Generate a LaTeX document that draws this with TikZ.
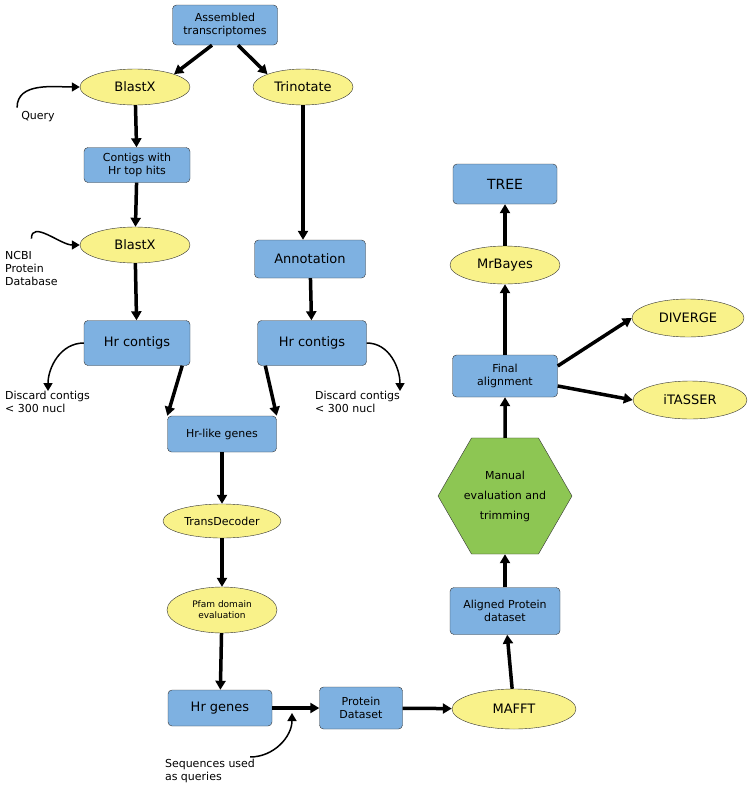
\documentclass[tikz,border=0pt]{standalone}
\usepackage{fontspec}
\setmainfont{DejaVu Sans}
\usetikzlibrary{shapes.geometric,arrows.meta}
\definecolor{boxblue}{HTML}{7EB1E1}
\definecolor{ellyellow}{HTML}{F9F28A}
\definecolor{hexgreen}{HTML}{8DC653}
\tikzset{
  box/.style={draw=black!80, fill=boxblue, rounded corners=4pt, align=center, inner sep=2pt},
  ell/.style={draw=black!80, fill=ellyellow, ellipse, align=center, inner sep=1pt},
  lbl/.style={align=left, inner sep=0pt, font=\fontsize{11}{13}\selectfont},
  arr/.style={-{Triangle[length=9pt,width=10pt]}, line width=3.5pt},
  carr/.style={-{Triangle[length=8pt,width=9pt]}, line width=1.5pt}
}
\begin{document}
\begin{tikzpicture}[x=1pt,y=-1pt]
\useasboundingbox (0,0) rectangle (750,798);

% Left branch
\node[box, minimum width=105, minimum height=40, font=\fontsize{11}{13}\selectfont] (asm) at (225,25) {Assembled\\transcriptomes};
\node[ell, minimum width=110, minimum height=36, font=\fontsize{13}{15}\selectfont] (bx1) at (135,87) {BlastX};
\node[ell, minimum width=100, minimum height=36, font=\fontsize{13}{15}\selectfont] (trin) at (303,87) {Trinotate};
\node[lbl] (query) at (38,117) {Query};
\node[box, minimum width=106, minimum height=35, font=\fontsize{11}{13}\selectfont] (top) at (137,165) {Contigs with\\Hr top hits};
\node[ell, minimum width=110, minimum height=36, font=\fontsize{13}{15}\selectfont] (bx2) at (135,245) {BlastX};
\node[lbl, anchor=west] (ncbi) at (5,268) {NCBI\\Protein\\Database};
\node[box, minimum width=106, minimum height=45, font=\fontsize{13}{15}\selectfont] (hrl) at (137,343) {Hr contigs};
\node[lbl, anchor=west] (disl) at (5,402) {Discard contigs\\< 300 nucl};

% Right branch
\node[box, minimum width=111, minimum height=38, font=\fontsize{13}{15}\selectfont] (ann) at (310,259) {Annotation};
\node[box, minimum width=109, minimum height=45, font=\fontsize{13}{15}\selectfont] (hrr) at (312,343) {Hr contigs};
\node[lbl, anchor=west] (disr) at (315,402) {Discard contigs\\< 300 nucl};

% Middle
\node[box, minimum width=109, minimum height=36, font=\fontsize{11}{13}\selectfont] (like) at (222,434) {Hr-like genes};
\node[ell, minimum width=118, minimum height=34, font=\fontsize{11}{13}\selectfont] (td) at (222,521) {TransDecoder};
\node[ell, minimum width=110, minimum height=46, font=\fontsize{9}{11}\selectfont] (pfam) at (222,610) {Pfam domain\\evaluation};
\node[box, minimum width=104, minimum height=36, font=\fontsize{13}{15}\selectfont] (hrg) at (220,708) {Hr genes};
\node[lbl] (seq) at (210,771) {Sequences used\\as queries};
\node[box, minimum width=83, minimum height=42, font=\fontsize{11}{13}\selectfont] (prot) at (361,708) {Protein\\Dataset};
\coordinate (seqend) at (292,713);

% Alignment column
\node[ell, minimum width=124, minimum height=40, font=\fontsize{13}{15}\selectfont] (mafft) at (514,709) {MAFFT};
\node[box, minimum width=110, minimum height=47, font=\fontsize{11}{13}\selectfont] (aln) at (505,611) {Aligned Protein\\dataset};
\node[draw=black!80, fill=hexgreen, regular polygon, regular polygon sides=6, minimum size=126, inner sep=0pt, align=center, font=\fontsize{11}{20}\selectfont] (man) at (505,496) {Manual\\evaluation and\\trimming};
\node[box, minimum width=105, minimum height=42, font=\fontsize{11}{13}\selectfont] (fin) at (505,376) {Final\\alignment};
\node[ell, minimum width=110, minimum height=38, font=\fontsize{13}{15}\selectfont] (mrb) at (505,265) {MrBayes};
\node[box, minimum width=104, minimum height=40, font=\fontsize{14}{16}\selectfont] (tree) at (505,184) {TREE};
\node[ell, minimum width=112, minimum height=38, font=\fontsize{13}{15}\selectfont] (div) at (688,318) {DIVERGE};
\node[ell, minimum width=114, minimum height=38, font=\fontsize{13}{15}\selectfont] (ita) at (690,400) {iTASSER};

% Straight arrows
\draw[arr] (asm.south -| 212,0) -- (bx1.north east);
\draw[arr] (asm.south -| 238,0) -- (trin.north west);
\draw[arr] (bx1) -- (top);
\draw[arr] (top) -- (bx2);
\draw[arr] (bx2) -- (hrl);
\draw[arr] (trin) -- (ann.north -| trin);
\draw[arr] (ann) -- (hrr);
\draw[arr] (hrl.south east) ++(-8,0) -- (like.north west);
\draw[arr] (hrr.south west) ++(8,0) -- (like.north east);
\draw[arr] (like) -- (td);
\draw[arr] (td) -- (pfam);
\draw[arr] (pfam) -- (hrg);
\draw[arr] (hrg) -- (prot);
\draw[arr] (prot) -- (mafft);
\draw[arr] (mafft) -- (aln);
\draw[arr] (aln) -- (man);
\draw[arr] (man) -- (fin);
\draw[arr] (fin) -- (mrb);
\draw[arr] (mrb) -- (tree);
\draw[arr] (fin.east |- 0,366) -- (div.west);
\draw[arr] (fin.east |- 0,386) -- (ita.west);

% Curved arrows
\draw[carr] (query.north west) ++(-4,-4) to[out=90,in=180] (bx1.west);
\draw[carr] (ncbi.north) ++(0,-12) to[out=90,in=180] (bx2.west);
\draw[carr] (hrl.west) to[out=180,in=90] (disl.north -| 48,0);
\draw[carr] (hrr.east) to[out=0,in=90] (disr.north -| 400,0);
\draw[carr] (seq.north east) ++(-5,-2) to[out=0,in=270] (seqend);
\end{tikzpicture}
\end{document}
